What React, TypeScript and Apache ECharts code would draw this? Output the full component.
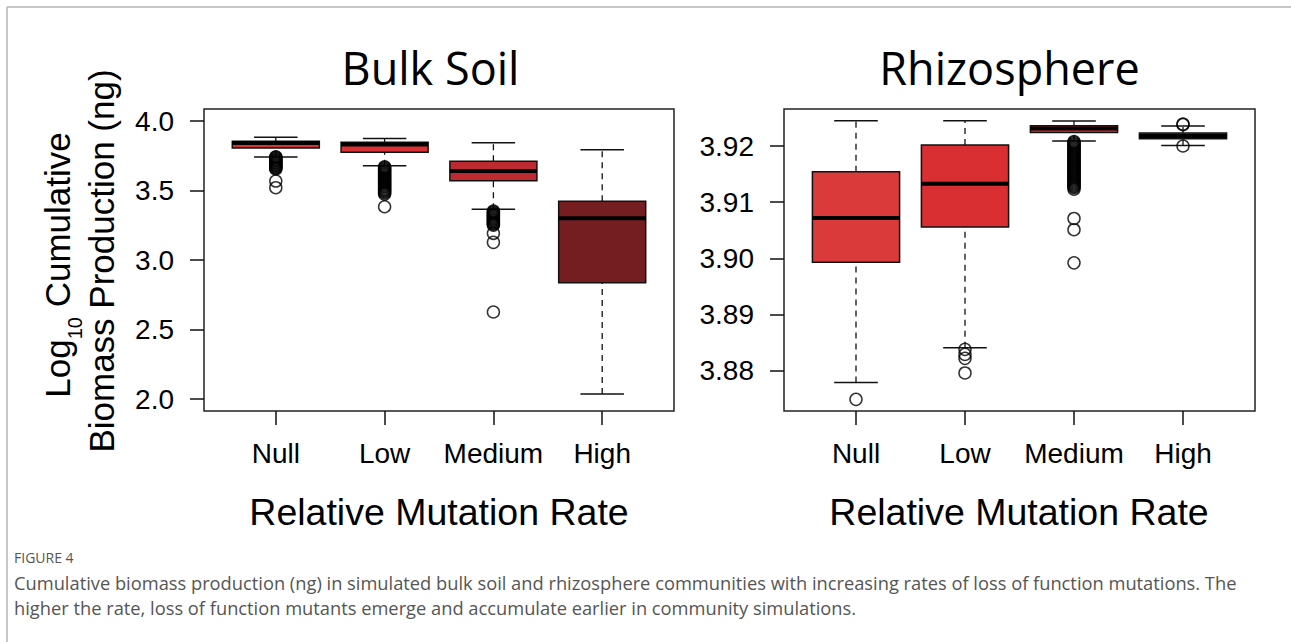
import React, { useEffect, useRef } from "react";
import * as echarts from "echarts";

const categories = ["Null", "Low", "Medium", "High"];
const categoryPositions = [1, 2, 3, 4];

// Bulk soil box statistics (log10 ng)
const bulkLowWhisker = [3.741, 3.678, 3.365, 2.036];
const bulkQ1 = [3.806, 3.775, 3.57, 2.837];
const bulkMedian = [3.842, 3.831, 3.64, 3.3];
const bulkQ3 = [3.854, 3.847, 3.71, 3.422];
const bulkHighWhisker = [3.883, 3.875, 3.844, 3.794];
const bulkColors = ["#d63434", "#d83236", "#bd2b30", "#741e22"];

// Bulk soil outliers per category
const bulkOutNull = [3.743, 3.738, 3.731, 3.726, 3.719, 3.714, 3.708, 3.701, 3.696, 3.69, 3.683, 3.678, 3.671, 3.666, 3.66, 3.655, 3.568, 3.52];
const bulkOutLow = [3.671, 3.665, 3.657, 3.651, 3.644, 3.636, 3.63, 3.622, 3.616, 3.609, 3.601, 3.595, 3.588, 3.58, 3.574, 3.566, 3.56, 3.552, 3.546, 3.538, 3.531, 3.525, 3.517, 3.51, 3.503, 3.497, 3.489, 3.482, 3.474, 3.383];
const bulkOutMedium = [3.352, 3.346, 3.339, 3.332, 3.326, 3.318, 3.312, 3.305, 3.298, 3.291, 3.285, 3.278, 3.271, 3.264, 3.258, 3.251, 3.192, 3.127, 2.626];
const bulkOutHigh: number[] = [];

// Rhizosphere box statistics (log10 ng)
const rhizLowWhisker = [3.8779, 3.8841, 3.9209, 3.9201];
const rhizQ1 = [3.8993, 3.9056, 3.9224, 3.9213];
const rhizMedian = [3.9072, 3.9133, 3.9231, 3.9218];
const rhizQ3 = [3.9154, 3.9202, 3.9236, 3.9223];
const rhizHighWhisker = [3.9245, 3.9245, 3.92445, 3.92356];
const rhizColors = ["#db3a3a", "#d92f33", "#d92f33", "#d92f33"];

// Rhizosphere outliers per category
const rhizOutNull = [3.8749];
const rhizOutLow = [3.8838, 3.8829, 3.8822, 3.8796];
const rhizOutMedium = [3.9208, 3.9206, 3.9204, 3.9202, 3.92, 3.9198, 3.9196, 3.9194, 3.9192, 3.919, 3.9188, 3.9186, 3.9184, 3.9182, 3.918, 3.9178, 3.9176, 3.9174, 3.9172, 3.917, 3.9168, 3.9166, 3.9164, 3.9162, 3.916, 3.9158, 3.9156, 3.9154, 3.9152, 3.915, 3.9148, 3.9146, 3.9144, 3.9142, 3.914, 3.9138, 3.9136, 3.9134, 3.9132, 3.913, 3.9128, 3.9126, 3.9123, 3.9071, 3.9051, 3.8992];
const rhizOutHigh = [3.9239, 3.9238, 3.92];

const bulkTicks = { min: 2.0, max: 4.0, interval: 0.5 };
const rhizTicks = { min: 3.88, max: 3.92, interval: 0.01 };

const panelTitles = ["Bulk Soil", "Rhizosphere"];
const xTitle = "Relative Mutation Rate";
const captionHead = "FIGURE 4";
const captionLine1 =
  "Cumulative biomass production (ng) in simulated bulk soil and rhizosphere communities with increasing rates of loss of function mutations. The";
const captionLine2 =
  "higher the rate, loss of function mutants emerge and accumulate earlier in community simulations.";

const AXIS_FONT = "'Liberation Sans', Arial, Helvetica, sans-serif";
const TITLE_FONT = "'Open Sans', 'Noto Sans', sans-serif";

function boxRows(lo: number[], q1: number[], md: number[], q3: number[], hi: number[]) {
  return categoryPositions.map((x, i) => [x, lo[i], q1[i], md[i], q3[i], hi[i], i]);
}
function outlierRows(lists: number[][]) {
  const rows: number[][] = [];
  lists.forEach((list, i) => list.forEach((v) => rows.push([categoryPositions[i], v])));
  return rows;
}

function makeRenderItem(colors: string[]) {
  return (params: any, api: any) => {
    const x = api.value(0);
    const lo = api.coord([x, api.value(1)]);
    const q1 = api.coord([x, api.value(2)]);
    const md = api.coord([x, api.value(3)]);
    const q3 = api.coord([x, api.value(4)]);
    const hi = api.coord([x, api.value(5)]);
    const idx = api.value(6);
    const bw = api.size([0.8, 0])[0];
    const cw = bw / 2;
    const dash = { stroke: "#111", lineWidth: 1.3, lineDash: [6, 5], fill: null };
    const solid = { stroke: "#111", lineWidth: 1.5, fill: null };
    return {
      type: "group",
      children: [
        { type: "line", shape: { x1: lo[0], y1: lo[1], x2: q1[0], y2: q1[1] }, style: dash },
        { type: "line", shape: { x1: q3[0], y1: q3[1], x2: hi[0], y2: hi[1] }, style: dash },
        { type: "line", shape: { x1: lo[0] - cw / 2, y1: lo[1], x2: lo[0] + cw / 2, y2: lo[1] }, style: solid },
        { type: "line", shape: { x1: hi[0] - cw / 2, y1: hi[1], x2: hi[0] + cw / 2, y2: hi[1] }, style: solid },
        {
          type: "rect",
          shape: { x: md[0] - bw / 2, y: q3[1], width: bw, height: q1[1] - q3[1] },
          style: { fill: colors[idx], stroke: "#111", lineWidth: 1.5 },
        },
        {
          type: "line",
          shape: { x1: md[0] - bw / 2, y1: md[1], x2: md[0] + bw / 2, y2: md[1] },
          style: { stroke: "#000", lineWidth: 4 },
        },
      ],
    };
  };
}

export default function App() {
  const ref = useRef<HTMLDivElement>(null);
  useEffect(() => {
    if (!ref.current) return;
    const chart = echarts.init(ref.current, undefined, { renderer: "svg" });

    const axisTick = { show: true, inside: false, length: 14, lineStyle: { color: "#111", width: 1.5 } };
    const xLabel = {
      show: true,
      margin: 28,
      fontSize: 28,
      color: "#000",
      fontFamily: AXIS_FONT,
      formatter: (v: number) => categories[Math.round(v) - 1] ?? "",
    };

    const option: any = {
      animation: false,
      backgroundColor: "#fff",
      grid: [
        { left: 275.8, top: 121, width: 326.4, height: 278 },
        { left: 856, top: 146, width: 327, height: 224.7 },
      ],
      xAxis: [
        {
          gridIndex: 0, type: "value", min: 1, max: 4, interval: 1, position: "bottom", offset: 12,
          axisLine: { show: false }, axisTick, splitLine: { show: false }, axisLabel: xLabel,
        },
        {
          gridIndex: 1, type: "value", min: 1, max: 4, interval: 1, position: "bottom", offset: 40.3,
          axisLine: { show: false }, axisTick, splitLine: { show: false }, axisLabel: xLabel,
        },
      ],
      yAxis: [
        {
          gridIndex: 0, type: "value", min: bulkTicks.min, max: bulkTicks.max, interval: bulkTicks.interval,
          position: "left", offset: 71.8,
          axisLine: { show: false }, axisTick, splitLine: { show: false },
          axisLabel: { margin: 30, fontSize: 28, color: "#000", fontFamily: AXIS_FONT, formatter: (v: number) => v.toFixed(1) },
        },
        {
          gridIndex: 1, type: "value", min: rhizTicks.min, max: rhizTicks.max, interval: rhizTicks.interval,
          position: "left", offset: 72,
          axisLine: { show: false }, axisTick, splitLine: { show: false },
          axisLabel: { margin: 30, fontSize: 28, color: "#000", fontFamily: AXIS_FONT, formatter: (v: number) => v.toFixed(2) },
        },
      ],
      series: [
        {
          type: "custom", xAxisIndex: 0, yAxisIndex: 0, clip: false, silent: true,
          renderItem: makeRenderItem(bulkColors),
          data: boxRows(bulkLowWhisker, bulkQ1, bulkMedian, bulkQ3, bulkHighWhisker),
          encode: { x: 0, y: [1, 2, 3, 4, 5] },
        },
        {
          type: "scatter", xAxisIndex: 0, yAxisIndex: 0, clip: false, silent: true, symbol: "circle", symbolSize: 12,
          itemStyle: { color: "rgba(0,0,0,0)", borderColor: "#000", borderWidth: 1.5 },
          data: outlierRows([bulkOutNull, bulkOutLow, bulkOutMedium, bulkOutHigh]),
        },
        {
          type: "custom", xAxisIndex: 1, yAxisIndex: 1, clip: false, silent: true,
          renderItem: makeRenderItem(rhizColors),
          data: boxRows(rhizLowWhisker, rhizQ1, rhizMedian, rhizQ3, rhizHighWhisker),
          encode: { x: 0, y: [1, 2, 3, 4, 5] },
        },
        {
          type: "scatter", xAxisIndex: 1, yAxisIndex: 1, clip: false, silent: true, symbol: "circle", symbolSize: 12,
          itemStyle: { color: "rgba(0,0,0,0)", borderColor: "#000", borderWidth: 1.5 },
          data: outlierRows([rhizOutNull, rhizOutLow, rhizOutMedium, rhizOutHigh]),
        },
      ],
      graphic: [
        { type: "line", shape: { x1: 7, y1: 7, x2: 1291, y2: 7 }, style: { stroke: "#b4b4b4", lineWidth: 1.5 } },
        { type: "line", shape: { x1: 7, y1: 7, x2: 7, y2: 642 }, style: { stroke: "#b4b4b4", lineWidth: 1.5 } },
        { type: "rect", shape: { x: 204, y: 109, width: 470, height: 302 }, style: { fill: null, stroke: "#222", lineWidth: 1.5 } },
        { type: "rect", shape: { x: 784, y: 109, width: 471, height: 302 }, style: { fill: null, stroke: "#222", lineWidth: 1.5 } },
        {
          type: "text", x: 430.5, y: 67,
          style: { text: panelTitles[0], fontSize: 45, fontFamily: TITLE_FONT, fill: "#000", align: "center", verticalAlign: "middle" },
        },
        {
          type: "text", x: 1009.5, y: 67,
          style: { text: panelTitles[1], fontSize: 45, fontFamily: TITLE_FONT, fill: "#000", align: "center", verticalAlign: "middle" },
        },
        {
          type: "text", x: 439, y: 512,
          style: { text: xTitle, fontSize: 37.5, fontFamily: AXIS_FONT, fill: "#000", align: "center", verticalAlign: "middle" },
        },
        {
          type: "text", x: 1019, y: 512,
          style: { text: xTitle, fontSize: 37.5, fontFamily: AXIS_FONT, fill: "#000", align: "center", verticalAlign: "middle" },
        },
        {
          type: "text", x: 57, y: 265, rotation: Math.PI / 2,
          style: {
            text: "{m|Log}{s|10}{m| Cumulative}",
            align: "center", verticalAlign: "middle", fill: "#000",
            rich: {
              m: { fontSize: 35, fontFamily: AXIS_FONT, fill: "#000" },
              s: { fontSize: 20, fontFamily: AXIS_FONT, fill: "#000", padding: [36, 0, 0, 0] },
            },
          },
        },
        {
          type: "text", x: 101, y: 261, rotation: Math.PI / 2,
          style: { text: "Biomass Production (ng)", fontSize: 35, fontFamily: AXIS_FONT, fill: "#000", align: "center", verticalAlign: "middle" },
        },
        {
          type: "text", x: 14, y: 557,
          style: { text: captionHead, fontSize: 14, fontFamily: TITLE_FONT, fill: "#555", align: "left", verticalAlign: "middle" },
        },
        {
          type: "text", x: 14, y: 582,
          style: { text: captionLine1, fontSize: 18.3, fontFamily: TITLE_FONT, fill: "#555", align: "left", verticalAlign: "middle" },
        },
        {
          type: "text", x: 14, y: 607,
          style: { text: captionLine2, fontSize: 18.3, fontFamily: TITLE_FONT, fill: "#555", align: "left", verticalAlign: "middle" },
        },
      ],
    };
    chart.setOption(option);
    return () => chart.dispose();
  }, []);
  return (
    <div
      ref={ref}
      style={{ position: "fixed", left: 0, top: 0, width: 1291, height: 642, background: "#fff" }}
    />
  );
}
